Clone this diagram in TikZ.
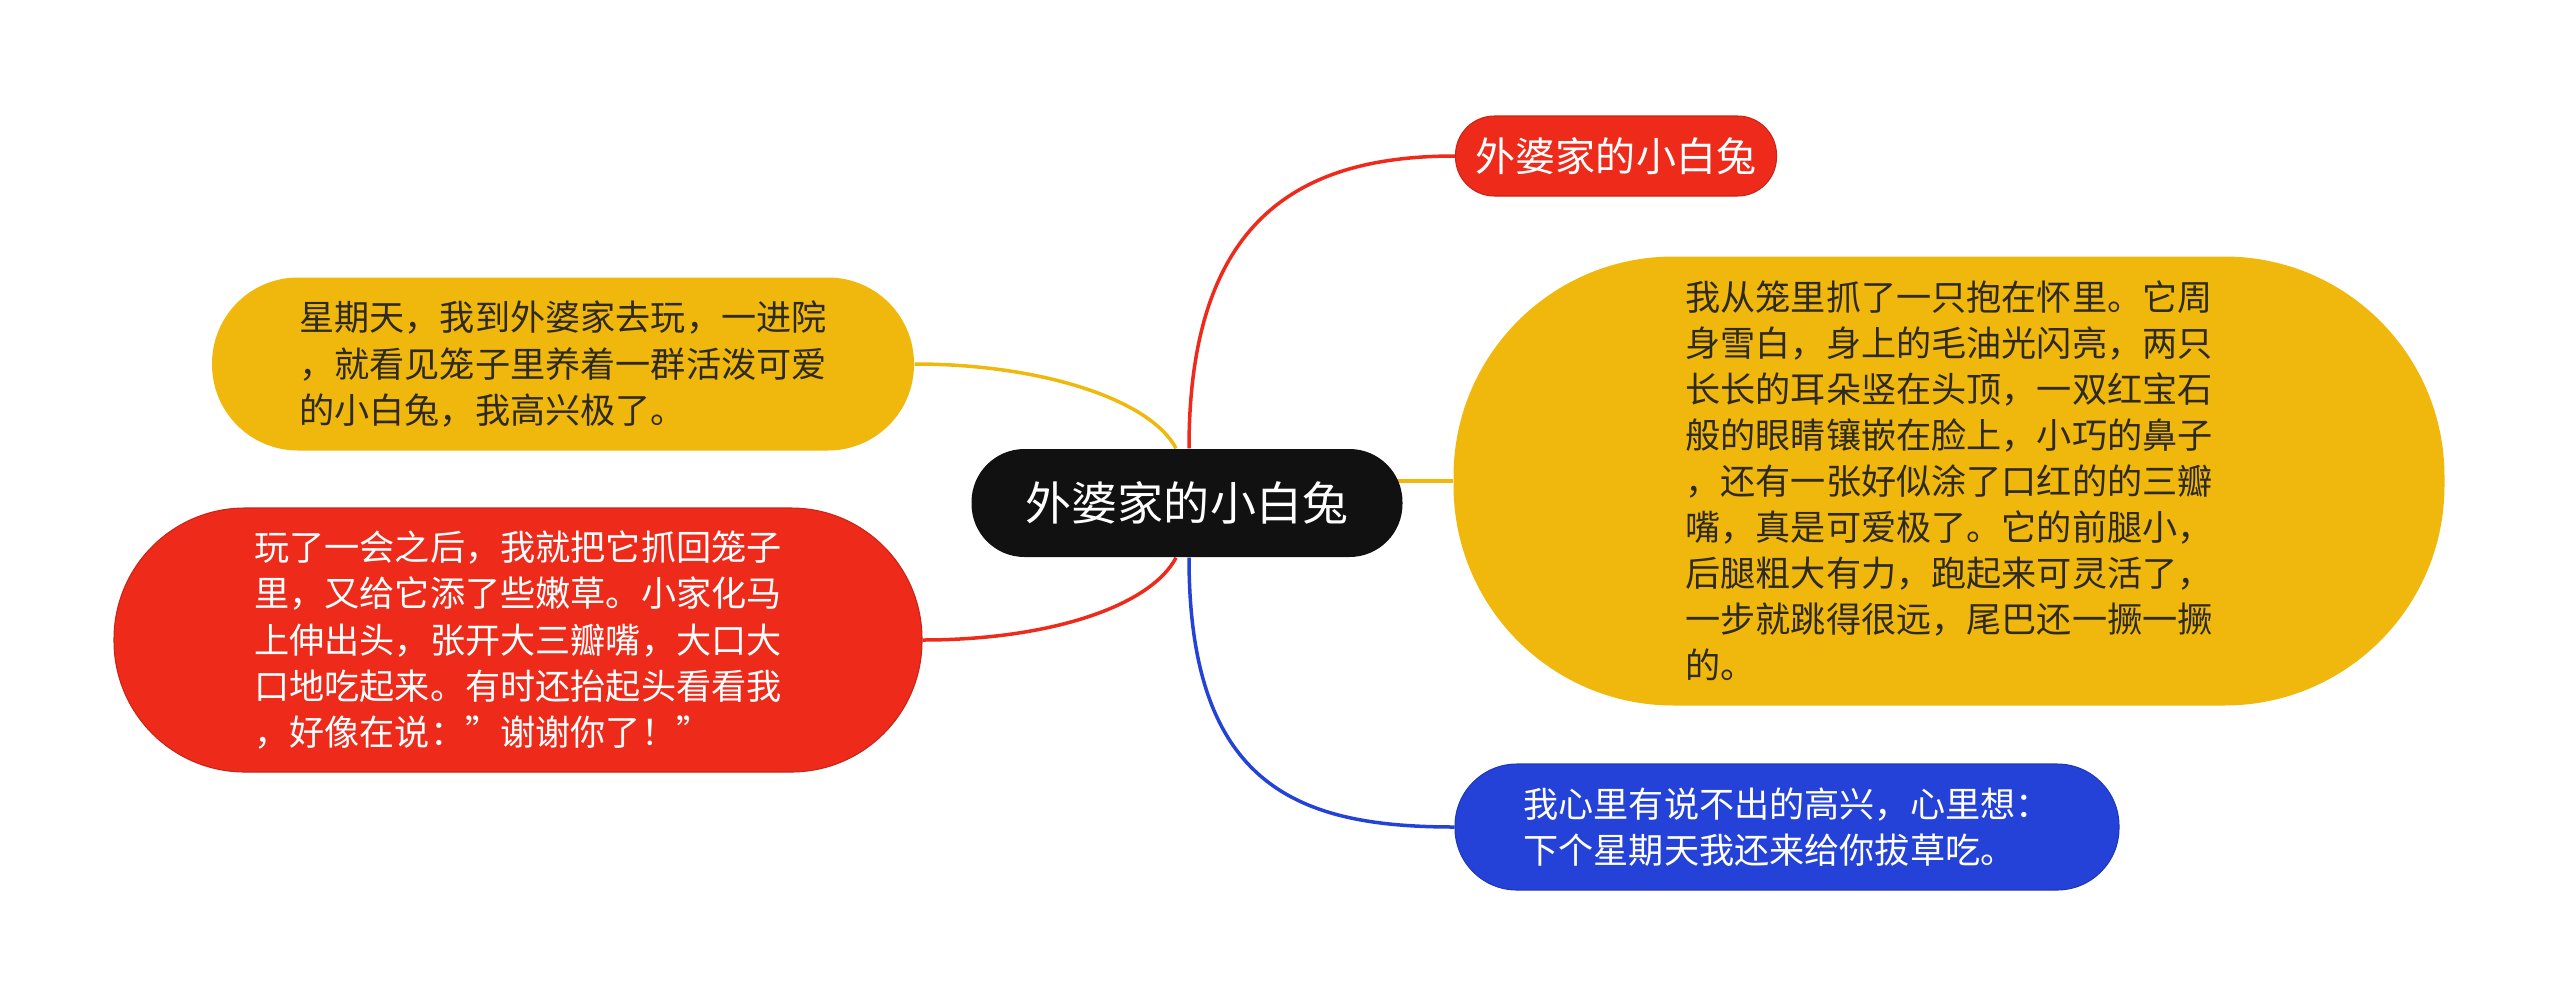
\documentclass[tikz,border=0pt]{standalone}
\usepackage{fontspec}
\newfontfamily\cjk{Noto Sans CJK SC}
\usepackage{tikz}
\usetikzlibrary{calc,backgrounds}
\definecolor{mapred}{HTML}{EE2A1A}
\definecolor{mapyellow}{HTML}{F0B80C}
\definecolor{mapblue}{HTML}{2442D8}
\definecolor{mapblack}{HTML}{111111}
\definecolor{maptext}{HTML}{2E2A20}
\tikzset{
    pill/.style={inner sep=0pt, align=left, font=\cjk\fontsize{10}{13.1}\selectfont},
    redpill/.style={pill, fill=mapred, draw=mapred!85!black, line width=0.3pt, text=white},
    yellowpill/.style={pill, fill=mapyellow, text=maptext},
    bluepill/.style={pill, fill=mapblue, draw=mapblue!85!black, line width=0.3pt, text=white},
    link/.style={line width=0.35mm}
}

\begin{document}
\begin{tikzpicture}[x=0.1mm,y=-0.1mm]
        \useasboundingbox (0,0) rectangle (2560,1006);
        % centre topic
        \node[pill, fill=mapblack, text=white, font=\cjk\fontsize{13.1}{15}\selectfont,
              minimum width=43.1mm, minimum height=10.8mm, rounded corners=5.3mm] (root) at (1187,503) {外婆家的小白兔};
        % right side
        \node[redpill, font=\cjk\fontsize{11.4}{14}\selectfont,
              minimum width=32.1mm, minimum height=8mm, rounded corners=3.9mm] (title) at (1616,156) {外婆家的小白兔};
        \node[yellowpill, minimum width=99.1mm, minimum height=44.9mm, rounded corners=22mm] (rabbit) at (1949,481)
            {我从笼里抓了一只抱在怀里。它周\\身雪白，身上的毛油光闪亮，两只\\长长的耳朵竖在头顶，一双红宝石\\般的眼睛镶嵌在脸上，小巧的鼻子\\，还有一张好似涂了口红的的三瓣\\嘴，真是可爱极了。它的前腿小，\\后腿粗大有力，跑起来可灵活了，\\一步就跳得很远，尾巴还一撅一撅\\的。};
        \node[bluepill, minimum width=66.4mm, minimum height=12.6mm, rounded corners=6.2mm] (wish) at (1787,827)
            {我心里有说不出的高兴，心里想：\\下个星期天我还来给你拔草吃。};
        % left side
        \node[yellowpill, minimum width=70.2mm, minimum height=17.3mm, rounded corners=8.6mm] (visit) at (563,364)
            {星期天，我到外婆家去玩，一进院\\，就看见笼子里养着一群活泼可爱\\的小白兔，我高兴极了。};
        \node[redpill, minimum width=80.8mm, minimum height=26.4mm, rounded corners=13.1mm] (feed) at (518,640)
            {玩了一会之后，我就把它抓回笼子\\里，又给它添了些嫩草。小家化马\\上伸出头，张开大三瓣嘴，大口大\\口地吃起来。有时还抬起头看看我\\，好像在说：”谢谢你了！”};
        % branches
        \begin{scope}[on background layer]
            \draw[link, mapred] ([xshift=0.2mm]root.north) .. controls +(0,-230) and +(-155,0) .. (title.west);
            \draw[link, mapyellow] (rabbit.west -| root.center) -- (rabbit.west);
            \draw[link, mapblue] ([xshift=0.2mm]root.south) .. controls +(0,230) and +(-155,0) .. (wish.west);
            \draw[link, mapyellow] (visit.east) .. controls +(126,0) and +(-26,-49) .. ([xshift=-1.1mm]root.north);
            \draw[link, mapred] (feed.east) .. controls +(126,0) and +(-26,49) .. ([xshift=-1.1mm]root.south);
        \end{scope}
\end{tikzpicture}
\end{document}
